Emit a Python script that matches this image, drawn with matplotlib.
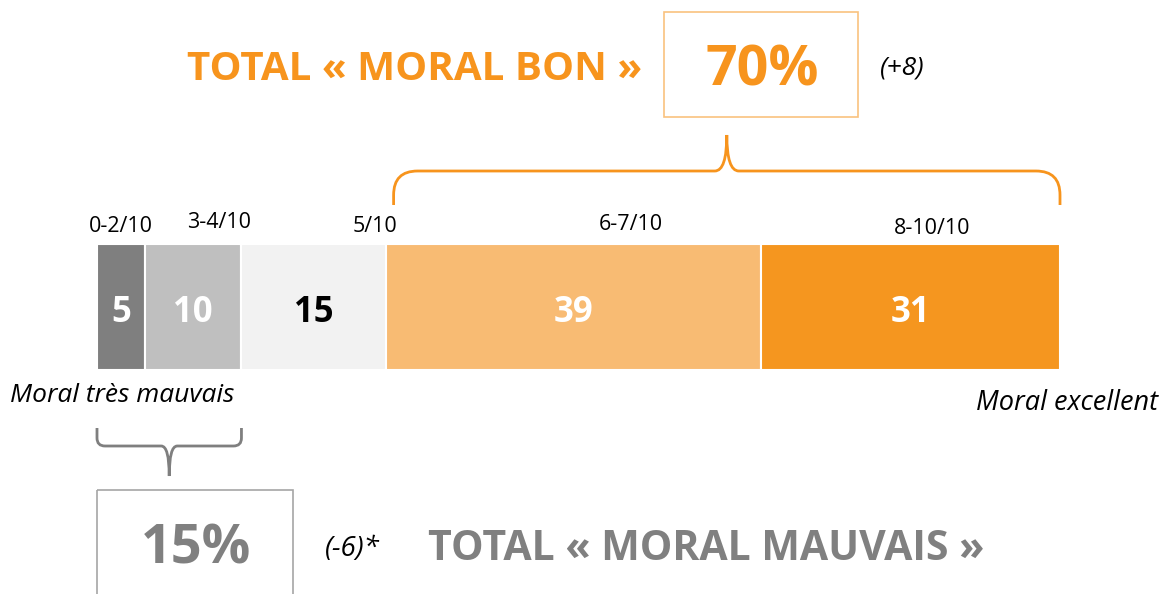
import numpy as np
import matplotlib
matplotlib.use("Agg")
import matplotlib.pyplot as plt
from matplotlib.path import Path
from matplotlib.patches import PathPatch, Rectangle

# data
categories = ["0-2/10", "3-4/10", "5/10", "6-7/10", "8-10/10"]
values = [5, 10, 15, 39, 31]
colors = ["#7f7f7f", "#bfbfbf", "#f2f2f2", "#f8bb73", "#f5961f"]
value_colors = ["white", "white", "black", "white", "white"]
# shift of the category labels from the segment centre, in bar units
label_shift = [0.0, 2.7, 6.4, 5.9, 2.2]
label_y = [226, 223, 226, 224, 228]

total_bon = 70
delta_bon = "(+8)"
total_mauvais = 15
delta_mauvais = "(-6)*"

ORANGE = "#f7941d"
GREY = "#808080"
FONT = ["Open Sans", "DejaVu Sans"]

plt.rcParams["font.family"] = FONT

W, H = 1163, 594
fig = plt.figure(figsize=(W / 100, H / 100), dpi=100)
ax = fig.add_axes([0, 0, 1, 1])
# x in bar units (0..100 maps to px 97..1060), y in pixels from top
PX = 963 / 100.0
ax.set_xlim(-97 / PX, (W - 97) / PX)
ax.set_ylim(H, 0)
ax.axis("off")

def px(x):
    return (x - 97) / PX

# stacked bar
lefts = np.concatenate([[0], np.cumsum(values)[:-1]])
ax.barh([307], values, left=lefts, height=126, color=colors,
        edgecolor="white", linewidth=1.5)

for i, (v, l) in enumerate(zip(values, lefts)):
    ax.text(l + v / 2, 313, str(v), ha="center", va="center",
            fontsize=25, fontweight="bold", color=value_colors[i])
    ax.text(l + v / 2 + label_shift[i], label_y[i], categories[i],
            ha="center", va="center", fontsize=15.5, color="black")

ax.text(px(10), 395, "Moral très mauvais", ha="left", va="center",
        fontsize=19, style="italic", color="black")
ax.text(px(1158), 403, "Moral excellent", ha="right", va="center",
        fontsize=19.5, style="italic", color="black")


def brace(x0, x1, y_end, y_line, y_tip, color, r=18, r2=12):
    # x in bar units, y in pixels; r, r2 in pixels
    xm = (x0 + x1) / 2
    rx, r2x = r / PX, r2 / PX
    s = np.sign(y_end - y_line)
    verts = [(x0, y_end), (x0, y_line + s * r), (x0, y_line), (x0 + rx, y_line),
             (xm - r2x, y_line), (xm, y_line), (xm, y_tip),
             (xm, y_line), (xm + r2x, y_line),
             (x1 - rx, y_line), (x1, y_line), (x1, y_line + s * r), (x1, y_end)]
    codes = [Path.MOVETO, Path.LINETO, Path.CURVE3, Path.CURVE3,
             Path.LINETO, Path.CURVE3, Path.CURVE3,
             Path.CURVE3, Path.CURVE3,
             Path.LINETO, Path.CURVE3, Path.CURVE3, Path.LINETO]
    ax.add_patch(PathPatch(Path(verts, codes), fill=False, edgecolor=color,
                           linewidth=2, capstyle="butt"))

cum = np.cumsum(values)
brace(cum[2] + 0.8, cum[4], 205, 171, 135, ORANGE, r=24, r2=12)
brace(0, cum[1], 428, 446, 476, "#7f7f7f", r=8, r2=8)

# top block
ax.add_patch(Rectangle((px(664), 12), (858 - 664) / PX, 105, fill=False,
                       edgecolor="#f9c27f", linewidth=1.2))
ax.text(px(762), 71, f"{total_bon}%", ha="center", va="center",
        fontsize=40, fontweight="bold", color=ORANGE)
ax.text(px(642), 70, "TOTAL « MORAL BON »", ha="right", va="center",
        fontsize=29, fontweight="bold", color=ORANGE)
ax.text(px(880), 68, delta_bon, ha="left", va="center",
        fontsize=19, style="italic", color="black")

# bottom block
ax.add_patch(Rectangle((px(97), 490), (293 - 97) / PX, 120, fill=False,
                       edgecolor="#a6a6a6", linewidth=1.2, clip_on=True))
ax.text(px(196), 549, f"{total_mauvais}%", ha="center", va="center",
        fontsize=39, fontweight="bold", color=GREY)
ax.text(px(325), 549, delta_mauvais, ha="left", va="center",
        fontsize=20, style="italic", color="black")
ax.text(px(428), 549, "TOTAL « MORAL MAUVAIS »", ha="left", va="center",
        fontsize=29.5, fontweight="bold", color=GREY)

fig.savefig("out.png", dpi=100, facecolor="white")
